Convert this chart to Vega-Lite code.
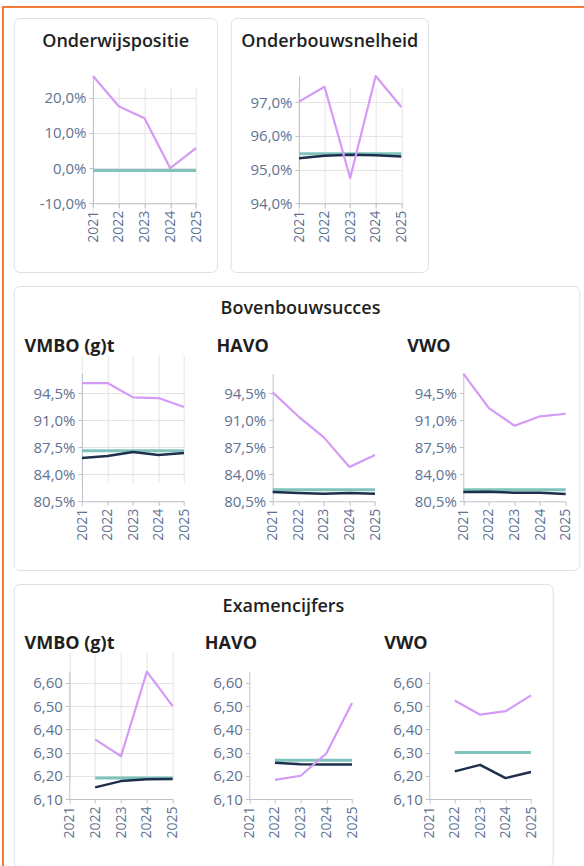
{
  "$schema": "https://vega.github.io/schema/vega-lite/v6.json",
  "padding": {"left": 2, "top": 6, "right": -40, "bottom": -20},
  "background": "white",
  "spacing": 0,
  "datasets": {
    "d": [
      {"panel": "ow", "series": "school", "year": 2021, "value": 0.262},
      {"panel": "ow", "series": "school", "year": 2022, "value": 0.176},
      {"panel": "ow", "series": "school", "year": 2023, "value": 0.142},
      {"panel": "ow", "series": "school", "year": 2024, "value": 0.0},
      {"panel": "ow", "series": "school", "year": 2025, "value": 0.057},
      {"panel": "ow", "series": "norm", "year": 2021, "value": -0.0065},
      {"panel": "ow", "series": "norm", "year": 2022, "value": -0.0065},
      {"panel": "ow", "series": "norm", "year": 2023, "value": -0.0065},
      {"panel": "ow", "series": "norm", "year": 2024, "value": -0.0065},
      {"panel": "ow", "series": "norm", "year": 2025, "value": -0.0065},

      {"panel": "ob", "series": "school", "year": 2021, "value": 0.9702},
      {"panel": "ob", "series": "school", "year": 2022, "value": 0.9746},
      {"panel": "ob", "series": "school", "year": 2023, "value": 0.9475},
      {"panel": "ob", "series": "school", "year": 2024, "value": 0.9778},
      {"panel": "ob", "series": "school", "year": 2025, "value": 0.9686},
      {"panel": "ob", "series": "norm", "year": 2021, "value": 0.9547},
      {"panel": "ob", "series": "norm", "year": 2022, "value": 0.9547},
      {"panel": "ob", "series": "norm", "year": 2023, "value": 0.9547},
      {"panel": "ob", "series": "norm", "year": 2024, "value": 0.9547},
      {"panel": "ob", "series": "norm", "year": 2025, "value": 0.9547},
      {"panel": "ob", "series": "bench", "year": 2021, "value": 0.9534},
      {"panel": "ob", "series": "bench", "year": 2022, "value": 0.9541},
      {"panel": "ob", "series": "bench", "year": 2023, "value": 0.9544},
      {"panel": "ob", "series": "bench", "year": 2024, "value": 0.9543},
      {"panel": "ob", "series": "bench", "year": 2025, "value": 0.9539},

      {"panel": "bb_vmbo", "series": "school", "year": 2021, "value": 0.9579},
      {"panel": "bb_vmbo", "series": "school", "year": 2022, "value": 0.9579},
      {"panel": "bb_vmbo", "series": "school", "year": 2023, "value": 0.9394},
      {"panel": "bb_vmbo", "series": "school", "year": 2024, "value": 0.9385},
      {"panel": "bb_vmbo", "series": "school", "year": 2025, "value": 0.9269},
      {"panel": "bb_vmbo", "series": "norm", "year": 2021, "value": 0.8704},
      {"panel": "bb_vmbo", "series": "norm", "year": 2022, "value": 0.8704},
      {"panel": "bb_vmbo", "series": "norm", "year": 2023, "value": 0.8704},
      {"panel": "bb_vmbo", "series": "norm", "year": 2024, "value": 0.8704},
      {"panel": "bb_vmbo", "series": "norm", "year": 2025, "value": 0.8704},
      {"panel": "bb_vmbo", "series": "bench", "year": 2021, "value": 0.861},
      {"panel": "bb_vmbo", "series": "bench", "year": 2022, "value": 0.8636},
      {"panel": "bb_vmbo", "series": "bench", "year": 2023, "value": 0.8687},
      {"panel": "bb_vmbo", "series": "bench", "year": 2024, "value": 0.8649},
      {"panel": "bb_vmbo", "series": "bench", "year": 2025, "value": 0.8674},

      {"panel": "bb_havo", "series": "school", "year": 2021, "value": 0.9459},
      {"panel": "bb_havo", "series": "school", "year": 2022, "value": 0.9149},
      {"panel": "bb_havo", "series": "school", "year": 2023, "value": 0.8877},
      {"panel": "bb_havo", "series": "school", "year": 2024, "value": 0.8493},
      {"panel": "bb_havo", "series": "school", "year": 2025, "value": 0.8648},
      {"panel": "bb_havo", "series": "norm", "year": 2021, "value": 0.82},
      {"panel": "bb_havo", "series": "norm", "year": 2022, "value": 0.82},
      {"panel": "bb_havo", "series": "norm", "year": 2023, "value": 0.82},
      {"panel": "bb_havo", "series": "norm", "year": 2024, "value": 0.82},
      {"panel": "bb_havo", "series": "norm", "year": 2025, "value": 0.82},
      {"panel": "bb_havo", "series": "bench", "year": 2021, "value": 0.817},
      {"panel": "bb_havo", "series": "bench", "year": 2022, "value": 0.8157},
      {"panel": "bb_havo", "series": "bench", "year": 2023, "value": 0.8148},
      {"panel": "bb_havo", "series": "bench", "year": 2024, "value": 0.8157},
      {"panel": "bb_havo", "series": "bench", "year": 2025, "value": 0.8148},

      {"panel": "bb_vwo", "series": "school", "year": 2021, "value": 0.97},
      {"panel": "bb_vwo", "series": "school", "year": 2022, "value": 0.9256},
      {"panel": "bb_vwo", "series": "school", "year": 2023, "value": 0.9027},
      {"panel": "bb_vwo", "series": "school", "year": 2024, "value": 0.9149},
      {"panel": "bb_vwo", "series": "school", "year": 2025, "value": 0.9182},
      {"panel": "bb_vwo", "series": "norm", "year": 2021, "value": 0.82},
      {"panel": "bb_vwo", "series": "norm", "year": 2022, "value": 0.82},
      {"panel": "bb_vwo", "series": "norm", "year": 2023, "value": 0.82},
      {"panel": "bb_vwo", "series": "norm", "year": 2024, "value": 0.82},
      {"panel": "bb_vwo", "series": "norm", "year": 2025, "value": 0.82},
      {"panel": "bb_vwo", "series": "bench", "year": 2021, "value": 0.817},
      {"panel": "bb_vwo", "series": "bench", "year": 2022, "value": 0.8174},
      {"panel": "bb_vwo", "series": "bench", "year": 2023, "value": 0.8161},
      {"panel": "bb_vwo", "series": "bench", "year": 2024, "value": 0.8161},
      {"panel": "bb_vwo", "series": "bench", "year": 2025, "value": 0.8144},

      {"panel": "ex_vmbo", "series": "school", "year": 2022, "value": 6.357},
      {"panel": "ex_vmbo", "series": "school", "year": 2023, "value": 6.284},
      {"panel": "ex_vmbo", "series": "school", "year": 2024, "value": 6.648},
      {"panel": "ex_vmbo", "series": "school", "year": 2025, "value": 6.5},
      {"panel": "ex_vmbo", "series": "norm", "year": 2022, "value": 6.19},
      {"panel": "ex_vmbo", "series": "norm", "year": 2023, "value": 6.19},
      {"panel": "ex_vmbo", "series": "norm", "year": 2024, "value": 6.19},
      {"panel": "ex_vmbo", "series": "norm", "year": 2025, "value": 6.19},
      {"panel": "ex_vmbo", "series": "bench", "year": 2022, "value": 6.15},
      {"panel": "ex_vmbo", "series": "bench", "year": 2023, "value": 6.177},
      {"panel": "ex_vmbo", "series": "bench", "year": 2024, "value": 6.185},
      {"panel": "ex_vmbo", "series": "bench", "year": 2025, "value": 6.186},

      {"panel": "ex_havo", "series": "school", "year": 2022, "value": 6.182},
      {"panel": "ex_havo", "series": "school", "year": 2023, "value": 6.2},
      {"panel": "ex_havo", "series": "school", "year": 2024, "value": 6.296},
      {"panel": "ex_havo", "series": "school", "year": 2025, "value": 6.513},
      {"panel": "ex_havo", "series": "norm", "year": 2022, "value": 6.267},
      {"panel": "ex_havo", "series": "norm", "year": 2023, "value": 6.267},
      {"panel": "ex_havo", "series": "norm", "year": 2024, "value": 6.267},
      {"panel": "ex_havo", "series": "norm", "year": 2025, "value": 6.267},
      {"panel": "ex_havo", "series": "bench", "year": 2022, "value": 6.256},
      {"panel": "ex_havo", "series": "bench", "year": 2023, "value": 6.25},
      {"panel": "ex_havo", "series": "bench", "year": 2024, "value": 6.249},
      {"panel": "ex_havo", "series": "bench", "year": 2025, "value": 6.248},

      {"panel": "ex_vwo", "series": "school", "year": 2022, "value": 6.524},
      {"panel": "ex_vwo", "series": "school", "year": 2023, "value": 6.463},
      {"panel": "ex_vwo", "series": "school", "year": 2024, "value": 6.478},
      {"panel": "ex_vwo", "series": "school", "year": 2025, "value": 6.546},
      {"panel": "ex_vwo", "series": "norm", "year": 2022, "value": 6.3},
      {"panel": "ex_vwo", "series": "norm", "year": 2023, "value": 6.3},
      {"panel": "ex_vwo", "series": "norm", "year": 2024, "value": 6.3},
      {"panel": "ex_vwo", "series": "norm", "year": 2025, "value": 6.3},
      {"panel": "ex_vwo", "series": "bench", "year": 2022, "value": 6.219},
      {"panel": "ex_vwo", "series": "bench", "year": 2023, "value": 6.247},
      {"panel": "ex_vwo", "series": "bench", "year": 2024, "value": 6.19},
      {"panel": "ex_vwo", "series": "bench", "year": 2025, "value": 6.216}
    ]
  },
  "hconcat": [
    {
      "width": 2,
      "height": 880,
      "data": {"values": []},
      "mark": "point",
      "view": {"stroke": null, "fill": "#f47b35", "cornerRadius": 0}
    },
    {
      "spacing": 9,
      "vconcat": [
        {
          "width": 620,
          "height": 2,
          "data": {"values": []},
          "mark": "point",
          "view": {"stroke": null, "fill": "#f47b35", "cornerRadius": 0}
        },
        {
          "spacing": 7.7,
          "hconcat": [
            {
              "width": 1,
              "height": 1,
              "data": {"values": []},
              "mark": "point",
              "view": {"stroke": null, "fill": null}
            },
            {
              "spacing": 12,
              "vconcat": [
                {
                  "spacing": 12,
                  "hconcat": [
                    {
                      "width": 203.3,
                      "height": 254,
                      "data": {"name": "d"},
                      "transform": [{"filter": "datum.panel === 'ow'"}],
                      "encoding": {
                        "x": {"field": "year", "type": "ordinal",
                          "scale": {"type": "point", "domain": [2021, 2022, 2023, 2024, 2025], "range": [79.3, 182.3], "padding": 0},
                          "axis": {"orient": "bottom", "offset": -68.7, "title": "Onderwijspositie", "titleX": 101.5, "titleY": -156.9, "titleAlign": "center", "titleBaseline": "alphabetic", "titleFontWeight": 600}},
                        "y": {"field": "value", "type": "quantitative",
                          "scale": {"domain": [-0.1, 0.262], "range": [185.3, 58], "nice": false, "zero": false},
                          "axis": {"orient": "left", "offset": -79.3, "values": [-0.1, 0, 0.1, 0.2], "format": ".1%", "title": null}}
                      },
                      "layer": [
                        {"transform": [{"filter": "datum.series === 'norm'"}], "mark": {"type": "line", "color": "#7ec4bd", "strokeWidth": 3}},
                        {"transform": [{"filter": "datum.series === 'bench'"}], "mark": {"type": "line", "color": "#1d2f4c", "strokeWidth": 2.5}},
                        {"transform": [{"filter": "datum.series === 'school'"}], "mark": {"type": "line", "color": "#d49af5", "strokeWidth": 2.2}}
                      ]
                    },
                    {
                      "width": 197.3,
                      "height": 254,
                      "data": {"name": "d"},
                      "transform": [{"filter": "datum.panel === 'ob'"}],
                      "encoding": {
                        "x": {"field": "year", "type": "ordinal",
                          "scale": {"type": "point", "domain": [2021, 2022, 2023, 2024, 2025], "range": [68.3, 170.6], "padding": 0},
                          "axis": {"orient": "bottom", "offset": -68.7, "title": "Onderbouwsnelheid", "titleX": 98.6, "titleY": -156.9, "titleAlign": "center", "titleBaseline": "alphabetic", "titleFontWeight": 600}},
                        "y": {"field": "value", "type": "quantitative",
                          "scale": {"domain": [0.94, 0.9778], "range": [185.3, 58], "nice": false, "zero": false},
                          "axis": {"orient": "left", "offset": -68.3, "values": [0.94, 0.95, 0.96, 0.97], "format": ".1%", "title": null}}
                      },
                      "layer": [
                        {"transform": [{"filter": "datum.series === 'norm'"}], "mark": {"type": "line", "color": "#7ec4bd", "strokeWidth": 3}},
                        {"transform": [{"filter": "datum.series === 'bench'"}], "mark": {"type": "line", "color": "#1d2f4c", "strokeWidth": 2.5}},
                        {"transform": [{"filter": "datum.series === 'school'"}], "mark": {"type": "line", "color": "#d49af5", "strokeWidth": 2.2}}
                      ]
                    }
                  ]
                },
                {
                  "width": 565.6,
                  "height": 284,
                  "resolve": {"scale": {"x": "independent", "y": "independent"}, "axis": {"x": "independent", "y": "independent"}},
                  "layer": [
                    {
                      "data": {"name": "d"},
                      "transform": [{"filter": "datum.panel === 'bb_vmbo'"}],
                      "encoding": {
                        "x": {"field": "year", "type": "ordinal",
                          "scale": {"type": "point", "domain": [2021, 2022, 2023, 2024, 2025], "range": [68.3, 170.3], "padding": 0},
                          "axis": {"orient": "bottom", "offset": -68.7, "title": "VMBO (g)t", "titleX": 10.3, "titleY": -149.9, "titleAlign": "left", "titleBaseline": "alphabetic", "titleFontWeight": 700}},
                        "y": {"field": "value", "type": "quantitative",
                          "scale": {"domain": [0.805, 0.97], "range": [215.3, 87.7], "nice": false, "zero": false},
                          "axis": {"orient": "left", "offset": -68.3, "values": [0.805, 0.84, 0.875, 0.91, 0.945], "format": ".1%", "title": "Bovenbouwsucces", "titleX": 218, "titleY": 27.4, "titleAngle": 0, "titleAlign": "center", "titleBaseline": "alphabetic", "titleFontWeight": 600}}
                      },
                      "layer": [
                        {"transform": [{"filter": "datum.series === 'norm'"}], "mark": {"type": "line", "color": "#7ec4bd", "strokeWidth": 3}},
                        {"transform": [{"filter": "datum.series === 'bench'"}], "mark": {"type": "line", "color": "#1d2f4c", "strokeWidth": 2.5}},
                        {"transform": [{"filter": "datum.series === 'school'"}], "mark": {"type": "line", "color": "#d49af5", "strokeWidth": 2.2}}
                      ]
                    },
                    {
                      "data": {"name": "d"},
                      "transform": [{"filter": "datum.panel === 'bb_havo'"}],
                      "encoding": {
                        "x": {"field": "year", "type": "ordinal",
                          "scale": {"type": "point", "domain": [2021, 2022, 2023, 2024, 2025], "range": [259, 361.3], "padding": 0},
                          "axis": {"orient": "bottom", "offset": -68.7, "title": "HAVO", "titleX": 202.3, "titleY": -149.9, "titleAlign": "left", "titleBaseline": "alphabetic", "titleFontWeight": 700}},
                        "y": {"field": "value", "type": "quantitative",
                          "scale": {"domain": [0.805, 0.97], "range": [215.3, 87.7], "nice": false, "zero": false},
                          "axis": {"orient": "left", "offset": -259, "values": [0.805, 0.84, 0.875, 0.91, 0.945], "format": ".1%", "title": null}}
                      },
                      "layer": [
                        {"transform": [{"filter": "datum.series === 'norm'"}], "mark": {"type": "line", "color": "#7ec4bd", "strokeWidth": 3}},
                        {"transform": [{"filter": "datum.series === 'bench'"}], "mark": {"type": "line", "color": "#1d2f4c", "strokeWidth": 2.5}},
                        {"transform": [{"filter": "datum.series === 'school'"}], "mark": {"type": "line", "color": "#d49af5", "strokeWidth": 2.2}}
                      ]
                    },
                    {
                      "data": {"name": "d"},
                      "transform": [{"filter": "datum.panel === 'bb_vwo'"}],
                      "encoding": {
                        "x": {"field": "year", "type": "ordinal",
                          "scale": {"type": "point", "domain": [2021, 2022, 2023, 2024, 2025], "range": [449.6, 552], "padding": 0},
                          "axis": {"orient": "bottom", "offset": -68.7, "title": "VWO", "titleX": 393, "titleY": -149.9, "titleAlign": "left", "titleBaseline": "alphabetic", "titleFontWeight": 700}},
                        "y": {"field": "value", "type": "quantitative",
                          "scale": {"domain": [0.805, 0.97], "range": [215.3, 87.7], "nice": false, "zero": false},
                          "axis": {"orient": "left", "offset": -449.6, "values": [0.805, 0.84, 0.875, 0.91, 0.945], "format": ".1%", "title": null}}
                      },
                      "layer": [
                        {"transform": [{"filter": "datum.series === 'norm'"}], "mark": {"type": "line", "color": "#7ec4bd", "strokeWidth": 3}},
                        {"transform": [{"filter": "datum.series === 'bench'"}], "mark": {"type": "line", "color": "#1d2f4c", "strokeWidth": 2.5}},
                        {"transform": [{"filter": "datum.series === 'school'"}], "mark": {"type": "line", "color": "#d49af5", "strokeWidth": 2.2}}
                      ]
                    }
                  ]
                },
                {
                  "width": 539,
                  "height": 283,
                  "resolve": {"scale": {"x": "independent", "y": "independent"}, "axis": {"x": "independent", "y": "independent"}},
                  "layer": [
                    {
                      "data": {"name": "d"},
                      "transform": [{"filter": "datum.panel === 'ex_vmbo'"}],
                      "encoding": {
                        "x": {"field": "year", "type": "ordinal",
                          "scale": {"type": "point", "domain": [2021, 2022, 2023, 2024, 2025], "range": [55.6, 159], "padding": 0},
                          "axis": {"orient": "bottom", "offset": -68, "title": "VMBO (g)t", "titleX": 10.3, "titleY": -150.9, "titleAlign": "left", "titleBaseline": "alphabetic", "titleFontWeight": 700}},
                        "y": {"field": "value", "type": "quantitative",
                          "scale": {"domain": [6.1, 6.648], "range": [215, 87.7], "nice": false, "zero": false},
                          "axis": {"orient": "left", "offset": -55.6, "values": [6.1, 6.2, 6.3, 6.4, 6.5, 6.6], "format": ".2f", "title": "Examencijfers", "titleX": 213.7, "titleY": 27.4, "titleAngle": 0, "titleAlign": "center", "titleBaseline": "alphabetic", "titleFontWeight": 600}}
                      },
                      "layer": [
                        {"transform": [{"filter": "datum.series === 'norm'"}], "mark": {"type": "line", "color": "#7ec4bd", "strokeWidth": 3}},
                        {"transform": [{"filter": "datum.series === 'bench'"}], "mark": {"type": "line", "color": "#1d2f4c", "strokeWidth": 2.5}},
                        {"transform": [{"filter": "datum.series === 'school'"}], "mark": {"type": "line", "color": "#d49af5", "strokeWidth": 2.2}}
                      ]
                    },
                    {
                      "data": {"name": "d"},
                      "transform": [{"filter": "datum.panel === 'ex_havo'"}],
                      "encoding": {
                        "x": {"field": "year", "type": "ordinal",
                          "scale": {"type": "point", "domain": [2021, 2022, 2023, 2024, 2025], "range": [235.6, 338.3], "padding": 0},
                          "axis": {"orient": "bottom", "offset": -68, "title": "HAVO", "titleX": 190.6, "titleY": -150.9, "titleAlign": "left", "titleBaseline": "alphabetic", "titleFontWeight": 700}},
                        "y": {"field": "value", "type": "quantitative",
                          "scale": {"domain": [6.1, 6.648], "range": [215, 87.7], "nice": false, "zero": false},
                          "axis": {"orient": "left", "offset": -235.6, "values": [6.1, 6.2, 6.3, 6.4, 6.5, 6.6], "format": ".2f", "title": null}}
                      },
                      "layer": [
                        {"transform": [{"filter": "datum.series === 'norm'"}], "mark": {"type": "line", "color": "#7ec4bd", "strokeWidth": 3}},
                        {"transform": [{"filter": "datum.series === 'bench'"}], "mark": {"type": "line", "color": "#1d2f4c", "strokeWidth": 2.5}},
                        {"transform": [{"filter": "datum.series === 'school'"}], "mark": {"type": "line", "color": "#d49af5", "strokeWidth": 2.2}}
                      ]
                    },
                    {
                      "data": {"name": "d"},
                      "transform": [{"filter": "datum.panel === 'ex_vwo'"}],
                      "encoding": {
                        "x": {"field": "year", "type": "ordinal",
                          "scale": {"type": "point", "domain": [2021, 2022, 2023, 2024, 2025], "range": [415.6, 517.3], "padding": 0},
                          "axis": {"orient": "bottom", "offset": -68, "title": "VWO", "titleX": 370, "titleY": -150.9, "titleAlign": "left", "titleBaseline": "alphabetic", "titleFontWeight": 700}},
                        "y": {"field": "value", "type": "quantitative",
                          "scale": {"domain": [6.1, 6.648], "range": [215, 87.7], "nice": false, "zero": false},
                          "axis": {"orient": "left", "offset": -415.6, "values": [6.1, 6.2, 6.3, 6.4, 6.5, 6.6], "format": ".2f", "title": null}}
                      },
                      "layer": [
                        {"transform": [{"filter": "datum.series === 'norm'"}], "mark": {"type": "line", "color": "#7ec4bd", "strokeWidth": 3}},
                        {"transform": [{"filter": "datum.series === 'bench'"}], "mark": {"type": "line", "color": "#1d2f4c", "strokeWidth": 2.5}},
                        {"transform": [{"filter": "datum.series === 'school'"}], "mark": {"type": "line", "color": "#d49af5", "strokeWidth": 2.2}}
                      ]
                    }
                  ]
                }
              ]
            }
          ]
        }
      ]
    }
  ],
  "config": {
    "locale": {"number": {"decimal": ",", "thousands": ".", "grouping": [3], "currency": ["€", ""], "minus": "-"}},
    "font": "Open Sans",
    "view": {"stroke": "#dfdfdf", "strokeWidth": 1, "cornerRadius": 6, "fill": "white"},
    "axis": {
      "labelFont": "Open Sans",
      "labelFontSize": 14,
      "labelColor": "#617293",
      "domainColor": "#bcc2cc",
      "tickColor": "#bcc2cc",
      "gridColor": "#e4e4e4",
      "tickSize": 4,
      "labelPadding": 3,
      "grid": true,
      "titleFont": "Open Sans",
      "titleFontSize": 18,
      "titleColor": "#1f1f1f"
    },
    "axisX": {"labelAngle": -90, "labelFontSize": 14},
    "axisY": {"labelFontSize": 15},
    "line": {"strokeJoin": "round", "strokeCap": "butt"}
  }
}
